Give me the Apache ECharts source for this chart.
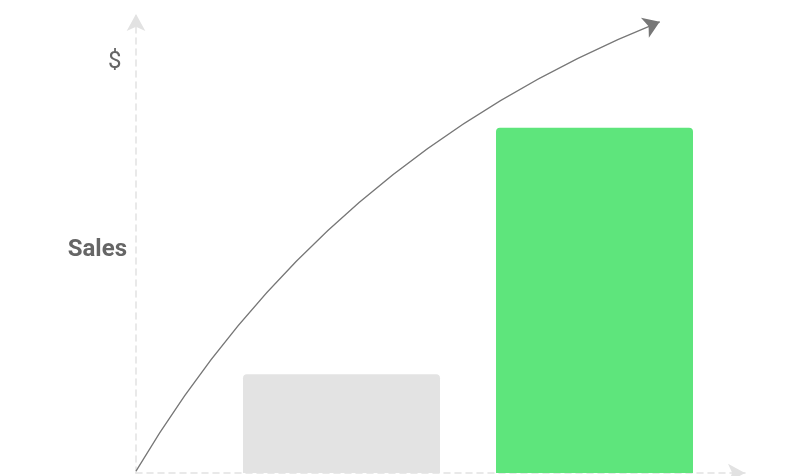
<!DOCTYPE html>
<html>
<head>
<meta charset="utf-8">
<script src="https://cdn.jsdelivr.net/npm/echarts@6/dist/echarts.min.js"></script>
<style>
html,body{margin:0;padding:0;background:#fff;}
#c{width:810px;height:476px;}
</style>
</head>
<body>
<div id="c"></div>
<script>
// Data
var categories = ['Before', 'After'];
var salesValues = [21.5, 75.2];
var barColors = ['#E3E3E3', '#5EE57C'];
var trendStart = [0, 0.4];
var trendEnd = [86, 98.3];
var yAxisName = 'Sales';
var unitLabel = '$';

var chart = echarts.init(document.getElementById('c'));
var axisColor = '#E2E2E2';
chart.setOption({
  animation: false,
  backgroundColor: '#fff',
  title: [
    {
      text: unitLabel,
      left: 103,
      top: 45,
      textStyle: { fontFamily: 'Roboto', fontSize: 24, fontWeight: 'normal', color: '#666' }
    },
    {
      text: yAxisName,
      right: 810 - 127 - 5,
      top: 233,
      textStyle: { fontFamily: 'Roboto', fontSize: 24, fontWeight: 'bold', color: '#666' }
    }
  ],
  grid: [
    { left: 136, right: 65, top: 14, bottom: 3 },
    { left: 215, right: 89, top: 14, bottom: 3 }
  ],
  xAxis: [
    {
      type: 'value', gridIndex: 0, min: 0, max: 100,
      axisLine: { show: true, symbol: ['none', 'arrow'], symbolSize: [14, 17],
        lineStyle: { color: axisColor, width: 1.5, type: [6, 5] } },
      axisTick: { show: false }, axisLabel: { show: false }, splitLine: { show: false }
    },
    {
      type: 'category', gridIndex: 1, data: categories,
      axisLine: { show: false }, axisTick: { show: false }, axisLabel: { show: false }
    }
  ],
  yAxis: [
    {
      type: 'value', gridIndex: 0, min: 0, max: 100,
      axisLine: { show: true, symbol: ['none', 'arrow'], symbolSize: [14, 17],
        lineStyle: { color: axisColor, width: 1.5, type: [6, 5] } },
      axisTick: { show: false }, axisLabel: { show: false }, splitLine: { show: false }
    },
    {
      type: 'value', gridIndex: 1, min: 0, max: 100,
      axisLine: { show: false }, axisTick: { show: false }, axisLabel: { show: false }, splitLine: { show: false }
    }
  ],
  series: [
    {
      type: 'bar', xAxisIndex: 1, yAxisIndex: 1,
      barWidth: 197,
      data: salesValues.map(function (v, i) {
        return { value: v, itemStyle: { color: barColors[i], borderRadius: [4, 4, 0, 0] } };
      })
    },
    {
      type: 'lines', coordinateSystem: 'cartesian2d', xAxisIndex: 0, yAxisIndex: 0,
      symbol: ['none', 'arrow'], symbolSize: [13, 16],
      lineStyle: { color: '#777', width: 1.3, curveness: 0.17, opacity: 1 },
      itemStyle: { color: '#666' },
      data: [{ coords: [trendStart, trendEnd] }],
      z: 5
    }
  ]
});
</script>
</body>
</html>
